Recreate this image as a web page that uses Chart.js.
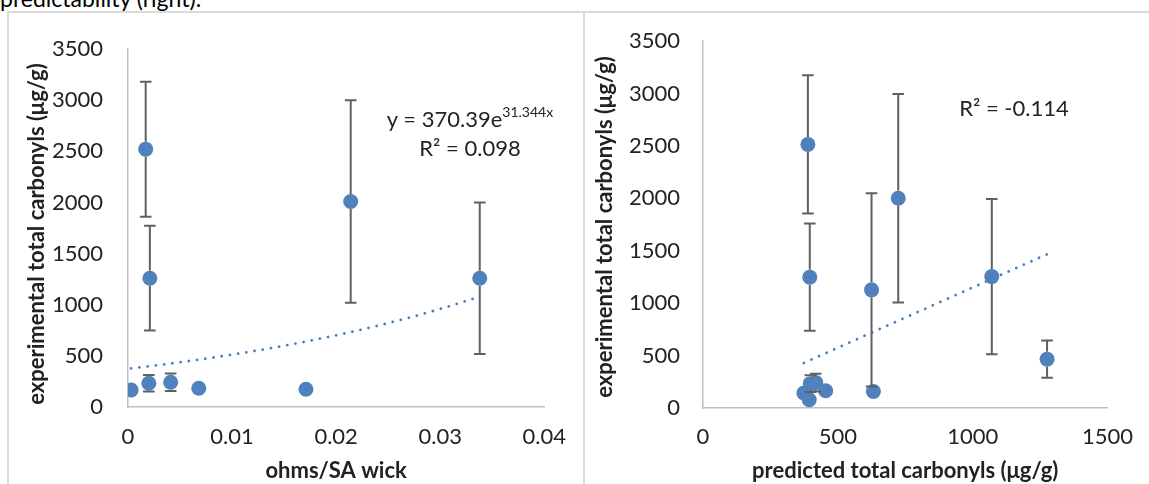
<!DOCTYPE html>
<html><head><meta charset="utf-8">
<script src="https://cdn.jsdelivr.net/npm/chart.js@4.4.0/dist/chart.umd.min.js"></script>
<style>
html,body{margin:0;padding:0;background:#fff;width:1149px;height:484px;overflow:hidden;font-family:Lato,'Open Sans',sans-serif;}
#caption{position:absolute;left:0;top:-15.5px;font-size:23px;line-height:27.6px;color:#000;white-space:nowrap;}
#frameL{position:absolute;left:7px;top:11px;width:574px;height:500px;border:2px solid #dadada;border-bottom:none;}
#frameR{position:absolute;left:583px;top:11px;width:600px;height:500px;border-top:2px solid #dadada;}
canvas{position:absolute;top:0;}
#cL{left:0;}
#cR{left:583px;}
.ann{position:absolute;font-size:22px;line-height:1;color:#222;white-space:nowrap;transform:translate(-50%,-50%);}
.ann sup{font-size:14px;vertical-align:top;position:relative;top:-3px;}
</style></head>
<body>
<div id="caption">predictability (right).</div>
<div id="frameL"></div>
<div id="frameR"></div>
<canvas id="cL" width="583" height="484"></canvas>
<canvas id="cR" width="566" height="484"></canvas>
<div class="ann" style="left:470px;top:119px;">y = 370.39e<sup>31.344x</sup></div>
<div class="ann" style="left:470px;top:148px;">R² = 0.098</div>
<div class="ann" style="left:1014px;top:108px;">R² = -0.114</div>
<script>
// ---- data: left chart (ohms/SA wick vs experimental carbonyls) ----
const leftX   = [0.0003, 0.0017, 0.0021, 0.0020, 0.0041, 0.0068, 0.0171, 0.0214, 0.0338];
const leftY   = [166, 2521, 1259, 232, 242, 183, 173, 2009, 1259];
const leftErr = [0, 660, 512, 80, 85, 0, 0, 990, 740];
// ---- data: right chart (predicted vs experimental carbonyls) ----
const rightX   = [389, 396, 625, 724, 1071, 1276, 632, 374, 394, 398, 418, 455];
const rightY   = [2514, 1248, 1127, 2000, 1253, 466, 158, 143, 79, 232, 242, 165];
const rightErr = [660, 512, 922, 995, 740, 178, 0, 0, 0, 80, 85, 0];
// ---- tick labels ----
const yTicks      = [0, 500, 1000, 1500, 2000, 2500, 3000, 3500];
const xTicksLeft  = [0, 0.01, 0.02, 0.03, 0.04];
const xTicksRight = [0, 500, 1000, 1500];
// ---- text ----
const yTitle      = 'experimental total carbonyls (μg/g)';
const xTitleLeft  = 'ohms/SA wick';
const xTitleRight = 'predicted total carbonyls (μg/g)';

const BLUE = '#4F81BD';
const TEXT = '#222222';
const FONT = 'Lato, "Open Sans", sans-serif';

// exponential fit (least squares on ln y)
function expFit(xs, ys){
  const n = xs.length, ly = ys.map(Math.log);
  const mx = xs.reduce((a,b)=>a+b,0)/n, my = ly.reduce((a,b)=>a+b,0)/n;
  let sxy=0, sxx=0;
  for(let i=0;i<n;i++){sxy+=(xs[i]-mx)*(ly[i]-my); sxx+=(xs[i]-mx)**2;}
  const b = sxy/sxx, a = Math.exp(my - b*mx);
  const lo = Math.min(...xs), hi = Math.max(...xs), pts=[];
  for(let i=0;i<=60;i++){const x=lo+(hi-lo)*i/60; pts.push({x, y:a*Math.exp(b*x)});}
  return pts;
}
// linear fit through origin
function originFit(xs, ys){
  let sxy=0, sxx=0;
  for(let i=0;i<xs.length;i++){sxy+=xs[i]*ys[i]; sxx+=xs[i]*xs[i];}
  const m = sxy/sxx, lo=Math.min(...xs), hi=Math.max(...xs);
  return [{x:lo,y:m*lo},{x:hi,y:m*hi}];
}

const errorBars = {
  id:'errorBars',
  afterDatasetsDraw(chart, args, opts){
    const {ctx, scales:{x,y}} = chart;
    const xs = opts.xs, ys = opts.ys, es = opts.errs, r = opts.r, cap = 5.8;
    ctx.save();
    ctx.strokeStyle = '#606060'; ctx.lineWidth = 2; ctx.lineCap='butt';
    for(let i=0;i<xs.length;i++){
      const e = es[i]; if(!e) continue;
      const px = x.getPixelForValue(xs[i]), pc = y.getPixelForValue(ys[i]);
      const yt = y.getPixelForValue(ys[i]+e), yb = y.getPixelForValue(ys[i]-e);
      ctx.beginPath();
      ctx.moveTo(px,yt); ctx.lineTo(px,pc-r);
      ctx.moveTo(px,pc+r); ctx.lineTo(px,yb);
      ctx.moveTo(px-cap,yt); ctx.lineTo(px+cap,yt);
      ctx.moveTo(px-cap,yb); ctx.lineTo(px+cap,yb);
      ctx.stroke();
    }
    ctx.restore();
  }
};

// vertical axis title drawn at a chosen centre
const yTitlePlugin = {
  id:'yTitlePlugin',
  afterDraw(chart, args, opts){
    const ctx = chart.ctx;
    ctx.save();
    ctx.translate(opts.cx, opts.cy);
    ctx.rotate(-Math.PI/2);
    ctx.font = 'bold 22px ' + FONT;
    ctx.fillStyle = TEXT;
    ctx.textAlign = 'center';
    ctx.textBaseline = 'middle';
    ctx.fillText(opts.text, 0, 0);
    ctx.restore();
  }
};

function makeChart(id, xs, ys, errs, trend, xTicks, xTitle, geo){
  return new Chart(document.getElementById(id), {
    type:'scatter',
    data:{datasets:[
      {data: xs.map((v,i)=>({x:v,y:ys[i]})), backgroundColor:BLUE, borderWidth:0, pointRadius:7.5, pointHoverRadius:7.5},
      {type:'line', data: trend, showLine:true, pointRadius:0, borderColor:'#4A7EBB', borderWidth:2.8,
       borderDash:[0.01, 8.3], borderCapStyle:'round', fill:false, tension:0}
    ]},
    options:{
      responsive:false, animation:false, devicePixelRatio:1,
      layout:{padding:{top:geo.top, right:geo.right, left:0, bottom:0}},
      plugins:{legend:{display:false}, tooltip:{enabled:false},
        errorBars:{xs, ys, errs, r:7.5},
        yTitlePlugin:{text:yTitle, cx:geo.tx, cy:geo.ty}},
      scales:{
        x:{type:'linear', min:xTicks[0], max:xTicks[xTicks.length-1],
          afterBuildTicks:s=>{s.ticks = xTicks.map(v=>({value:v}));},
          afterFit:s=>{s.height = geo.xh;},
          grid:{display:false, drawTicks:false},
          border:{display:true, color:'#BFBFBF', width:1.5},
          ticks:{padding:geo.xpad, color:TEXT, font:{family:FONT, size:22}, maxRotation:0, callback:v=>String(v)},
          title:{display:true, text:xTitle, color:TEXT, font:{family:FONT, size:22, weight:'bold'}, padding:{top:0,bottom:0}}
        },
        y:{type:'linear', min:yTicks[0], max:yTicks[yTicks.length-1],
          afterBuildTicks:s=>{s.ticks = yTicks.map(v=>({value:v}));},
          afterFit:s=>{s.width = geo.yw;},
          grid:{display:false, drawTicks:false},
          border:{display:true, color:'#BFBFBF', width:1.5},
          ticks:{padding:geo.ypad, color:TEXT, font:{family:FONT, size:22}, callback:v=>String(v)},
          title:{display:false}
        }
      }
    },
    plugins:[errorBars, yTitlePlugin]
  });
}

makeChart('cL', leftX, leftY, leftErr, expFit(leftX, leftY), xTicksLeft, xTitleLeft,
  {top:49, right:36, xh:77, yw:128, xpad:17, ypad:25, tx:37, ty:234});
makeChart('cR', rightX, rightY, rightErr, originFit(rightX, rightY), xTicksRight, xTitleRight,
  {top:41, right:30, xh:76, yw:120, xpad:16, ypad:23, tx:22, ty:227});
</script>
</body></html>
